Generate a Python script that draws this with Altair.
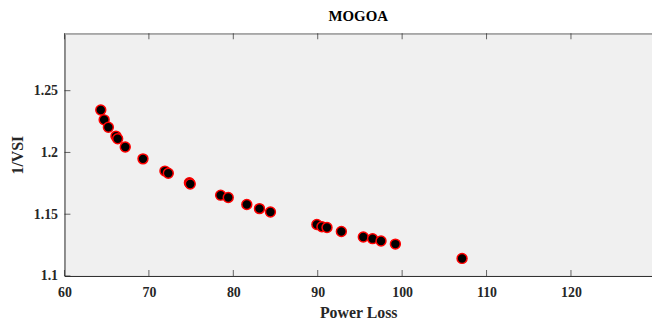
import altair as alt
import pandas as pd

# Pareto front
power_loss = [64.3, 64.7, 65.2, 66.1, 66.3, 67.2, 69.3, 71.9, 72.3, 74.8, 74.9,
              78.5, 79.4, 81.6, 83.1, 84.4, 89.9, 90.5, 91.1, 92.8, 95.4, 96.5,
              97.5, 99.2, 107.1]
inv_vsi = [1.2344, 1.2264, 1.2204, 1.2132, 1.2111, 1.2044, 1.1948, 1.1849, 1.1831,
           1.1755, 1.1745, 1.1654, 1.1635, 1.1579, 1.1545, 1.1518, 1.1417, 1.1398,
           1.1392, 1.1360, 1.1315, 1.1302, 1.1283, 1.1258, 1.1142]

x_ticks = [60, 70, 80, 90, 100, 110, 120]
y_ticks = [1.1, 1.15, 1.2, 1.25]
x_domain = [60, 129.6]
y_domain = [1.1, 1.2965]

W, H = 593, 245
FONT = "Liberation Serif"
AXIS_DARK = "#262626"

pts = pd.DataFrame({"loss": power_loss, "vsi": inv_vsi})
xt = pd.DataFrame({"loss": x_ticks})
yt = pd.DataFrame({"vsi": y_ticks})

xscale = alt.Scale(domain=x_domain, nice=False, zero=False)
yscale = alt.Scale(domain=y_domain, nice=False, zero=False)

x_axis = alt.Axis(title="Power Loss", values=x_ticks, ticks=False, grid=False,
                  domainColor=AXIS_DARK, labelPadding=10, titlePadding=5,
                  labelFlush=False)
y_axis = alt.Axis(title="1/VSI", values=y_ticks, ticks=False, format="~g",
                  grid=False, domainColor=AXIS_DARK, labelPadding=7, titlePadding=8,
                  labelFlush=False)

points = alt.Chart(pts).mark_point(
    filled=False, shape="circle", size=100, fill="black", fillOpacity=1,
    stroke="#ff0000", strokeWidth=1.5, opacity=1
).encode(
    x=alt.X("loss:Q", scale=xscale, axis=x_axis, title="Power Loss"),
    y=alt.Y("vsi:Q", scale=yscale, axis=y_axis, title="1/VSI"),
)

top_border = alt.Chart(xt).mark_rule(color="#a6a6a6", strokeWidth=1).encode(
    x=alt.value(0), x2=alt.value(W), y=alt.value(0.5),
)

bottom_ticks = alt.Chart(xt).mark_tick(
    orient="vertical", size=6, thickness=1, color=AXIS_DARK
).encode(
    x=alt.X("loss:Q", scale=xscale, axis=x_axis, title="Power Loss"),
    y=alt.value(H - 3),
)

top_ticks = alt.Chart(xt).mark_tick(
    orient="vertical", size=6, thickness=1, color=AXIS_DARK
).encode(
    x=alt.X("loss:Q", scale=xscale, axis=x_axis, title="Power Loss"),
    y=alt.value(3),
)

left_ticks = alt.Chart(yt).mark_tick(
    orient="horizontal", size=6, thickness=1, color=AXIS_DARK
).encode(
    y=alt.Y("vsi:Q", scale=yscale, axis=y_axis, title="1/VSI"),
    x=alt.value(3),
)

chart = alt.layer(
    points, top_border, bottom_ticks, top_ticks, left_ticks
).properties(
    width=W, height=H,
    title=alt.TitleParams("MOGOA", font=FONT, fontSize=15, fontWeight="bold",
                          color="black", offset=9, anchor="middle"),
    autosize=alt.AutoSizeParams(type="none"),
    padding={"left": 57, "top": 24, "right": 0, "bottom": 45},
).configure_view(
    fill="#f0f0f0", stroke=None
).configure_axis(
    labelFont=FONT, labelFontSize=14, labelFontWeight="bold", labelColor="#262626",
    titleFont=FONT, titleFontSize=16, titleFontWeight="bold", titleColor="#262626",
    domainWidth=1,
)

chart.save("out.html", embed_options={"renderer": "svg", "actions": False})
